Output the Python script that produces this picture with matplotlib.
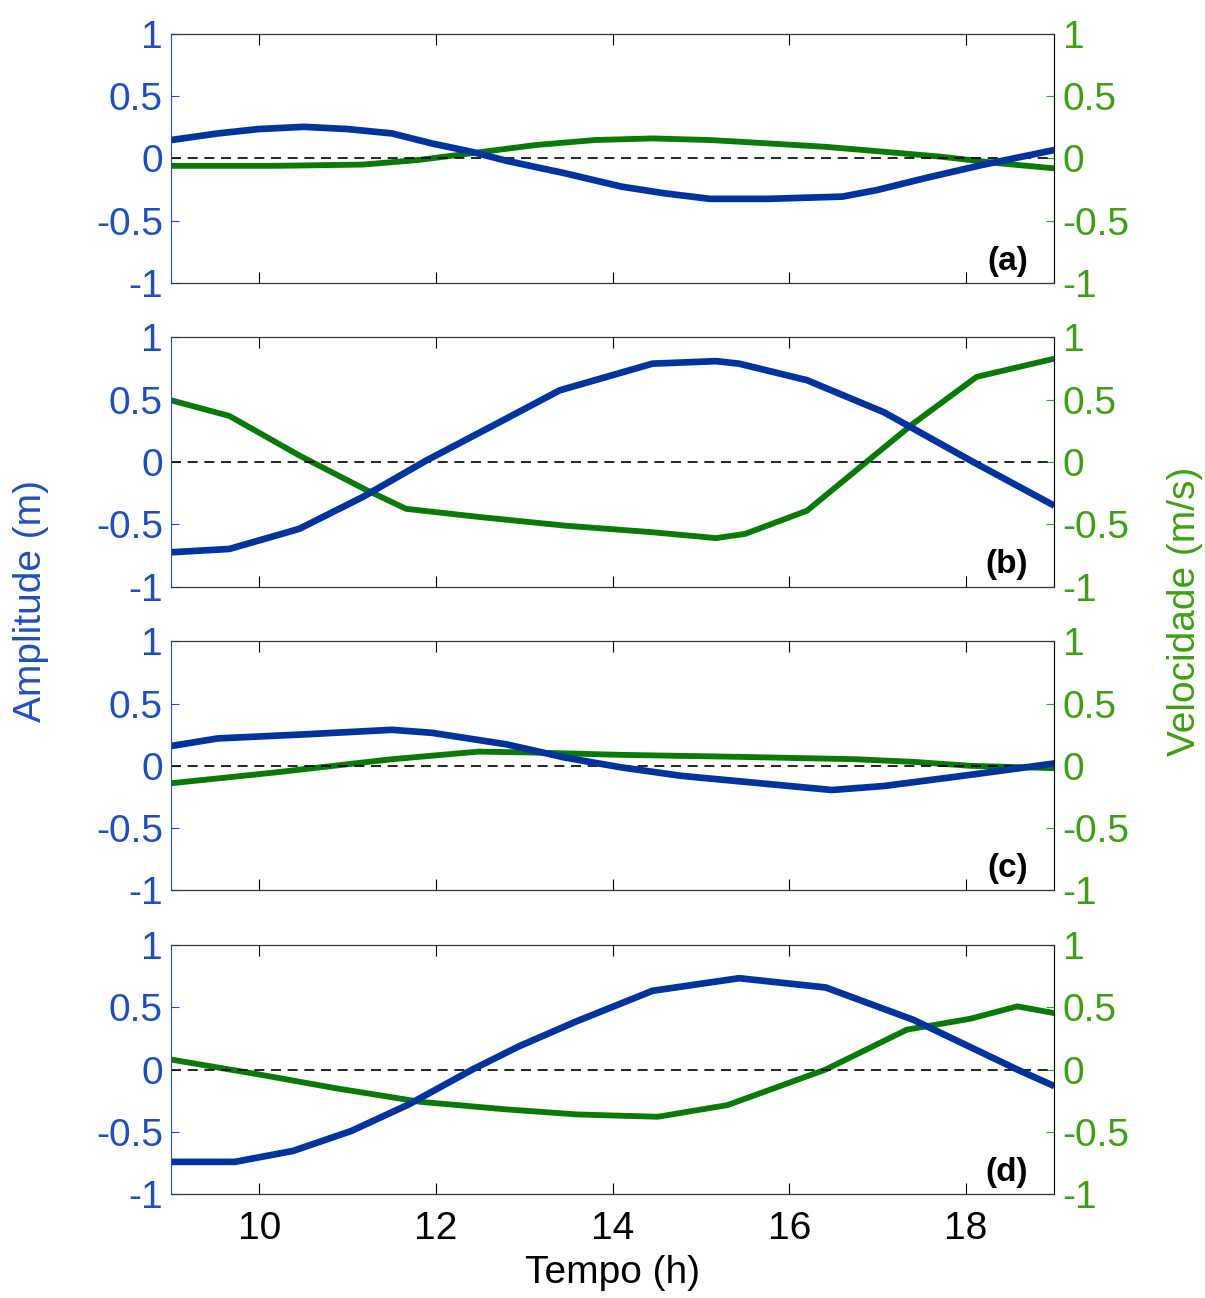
import matplotlib.pyplot as plt

plt.rcParams['font.family'] = ['Liberation Sans', 'DejaVu Sans']

BLUE = '#0033a0'
GREEN = '#087a08'
BLUE_AX = '#1f4fbf'
GREEN_AX = '#3ca010'

# (a)
t_a_amp = [9.0, 9.53, 9.99, 10.5, 11.0, 11.5, 11.95, 12.4, 12.8, 13.46, 14.1, 14.58,
           15.1, 15.76, 16.6, 17.0, 17.53, 18.18, 19.0]
amp_a = [0.147, 0.2, 0.235, 0.253, 0.235, 0.2, 0.12, 0.053, -0.02, -0.12, -0.227, -0.28,
         -0.325, -0.325, -0.307, -0.253, -0.16, -0.053, 0.067]
t_a_vel = [9.0, 10.18, 11.17, 11.8, 12.48, 13.13, 13.8, 14.45, 15.1, 15.76, 16.4, 17.07,
           17.72, 18.38, 19.0]
vel_a = [-0.06, -0.06, -0.05, -0.013, 0.048, 0.107, 0.147, 0.16, 0.147, 0.12, 0.093, 0.053,
         0.013, -0.04, -0.08]

# (b)
t_b_amp = [9.0, 9.66, 10.45, 11.17, 11.89, 12.61, 13.4, 14.45, 15.17, 15.43, 16.2, 17.07,
           18.05, 19.0]
amp_b = [-0.724, -0.697, -0.536, -0.28, 0.013, 0.28, 0.576, 0.79, 0.81, 0.79, 0.657, 0.4,
         0.013, -0.35]
t_b_vel = [9.0, 9.66, 10.46, 11.2, 11.66, 12.48, 13.46, 14.45, 15.17, 15.5, 16.2, 16.87,
           17.4, 18.12, 19.0]
vel_b = [0.496, 0.37, 0.05, -0.22, -0.375, -0.44, -0.51, -0.563, -0.61, -0.576, -0.39, 0.0,
         0.308, 0.684, 0.83]

# (c)
t_c_amp = [9.0, 9.53, 10.5, 11.5, 11.95, 12.8, 13.46, 14.1, 14.77, 15.76, 16.48, 17.07,
           18.05, 19.0]
amp_c = [0.159, 0.22, 0.252, 0.289, 0.265, 0.172, 0.066, -0.013, -0.08, -0.146, -0.194, -0.162,
         -0.072, 0.019]
t_c_vel = [9.0, 10.18, 11.5, 12.48, 13.13, 14.1, 15.43, 16.74, 17.4, 18.05, 19.0]
vel_c = [-0.14, -0.053, 0.053, 0.114, 0.106, 0.088, 0.072, 0.053, 0.032, 0.0, -0.019]

# (d)
t_d_amp = [9.0, 9.72, 10.38, 11.04, 11.69, 12.41, 12.94, 13.59, 14.45, 15.43, 16.41, 17.4,
           18.58, 19.0]
amp_d = [-0.741, -0.741, -0.653, -0.493, -0.28, 0.0, 0.187, 0.387, 0.632, 0.733, 0.659, 0.4,
         0.0, -0.133]
t_d_vel = [9.0, 10.0, 10.84, 11.82, 12.8, 13.59, 14.51, 15.3, 16.41, 17.33, 18.05, 18.58, 19.0]
vel_d = [0.08, -0.04, -0.147, -0.259, -0.32, -0.36, -0.379, -0.285, 0.0, 0.32, 0.408, 0.507,
         0.453]

panels = [
    ('(a)', t_a_amp, amp_a, t_a_vel, vel_a),
    ('(b)', t_b_amp, amp_b, t_b_vel, vel_b),
    ('(c)', t_c_amp, amp_c, t_c_vel, vel_c),
    ('(d)', t_d_amp, amp_d, t_d_vel, vel_d),
]

yticks = [-1, -0.5, 0, 0.5, 1]
yticklabels = ['-1', '-0.5', '0', '0.5', '1']

fig = plt.figure(figsize=(12.05, 12.98), dpi=100)
bottoms = [0.782, 0.548, 0.314, 0.080]
left, width, height = 0.142, 0.733, 0.192

for (tag, ta, amp, tv, vel), bottom in zip(panels, bottoms):
    ax = fig.add_axes([left, bottom, width, height])
    ax2 = ax.twinx()
    ax.set_zorder(ax2.get_zorder() + 1)
    ax.patch.set_visible(False)

    ax2.plot(tv, vel, color=GREEN, lw=4.2, solid_capstyle='butt')
    ax.axhline(0, color='black', lw=1.2, ls=(0, (6, 4)))
    ax.plot(ta, amp, color=BLUE, lw=4.8, solid_capstyle='butt')

    for a in (ax, ax2):
        a.set_xlim(9, 19)
        a.set_ylim(-1, 1)
        a.set_yticks(yticks)
    ax.set_yticklabels(yticklabels)
    ax2.set_yticklabels(yticklabels)
    ax.set_xticks([10, 12, 14, 16, 18])

    ax.tick_params(axis='y', direction='in', colors=BLUE_AX, labelsize=28, length=6, pad=6)
    ax.tick_params(axis='x', direction='in', top=True, labelsize=28, length=8, pad=12)
    ax2.tick_params(axis='y', direction='in', colors=GREEN_AX, labelsize=28, length=6, pad=6)
    ax.spines['left'].set_color(BLUE_AX)
    ax2.spines['right'].set_color(GREEN_AX)
    ax2.spines['left'].set_visible(False)
    for a in (ax, ax2):
        a.spines['top'].set_color('#333333')
        a.spines['bottom'].set_color('#333333')

    ax.text(0.97, 0.025, tag, transform=ax.transAxes, ha='right', va='bottom',
            fontsize=24, fontweight='bold')

    if tag != '(d)':
        ax.set_xticklabels([])
    else:
        ax.set_xlabel('Tempo (h)', fontsize=28, labelpad=6)

fig.text(0.026, 0.537, 'Amplitude (m)', color=BLUE_AX, fontsize=28, rotation=90,
         ha='center', va='center')
fig.text(0.983, 0.529, 'Velocidade (m/s)', color=GREEN_AX, fontsize=28, rotation=90,
         ha='center', va='center')

fig.savefig('out.png', dpi=100)
